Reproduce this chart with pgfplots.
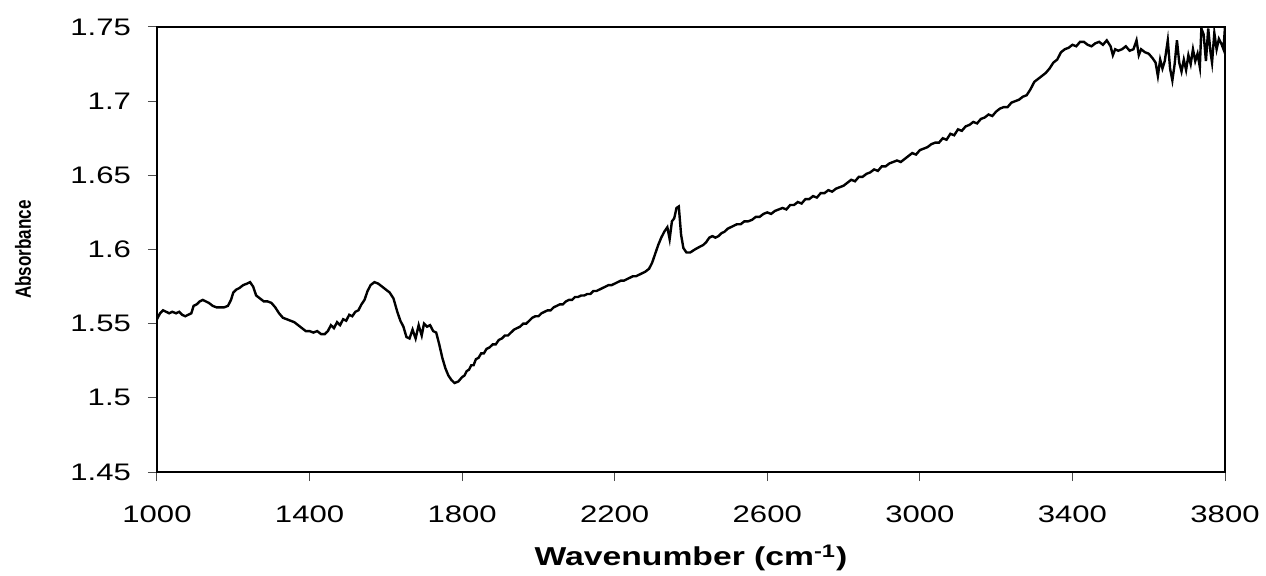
\documentclass[border=0pt]{standalone}
\usepackage{fontspec}
\setmainfont{Liberation Sans}[FakeStretch=1.3]
\newfontfamily\ylabfont{Liberation Sans Bold}[FakeStretch=0.78]
\usepackage{pgfplots}
\pgfplotsset{compat=1.18}
\begin{document}
\begin{tikzpicture}
\path[use as bounding box] (-78.5bp,-52bp) rectangle (554.5bp,236bp);
\begin{axis}[
  scale only axis, width=534bp, height=222.5bp,
  xmin=1000, xmax=3800, ymin=1.45, ymax=1.75,
  xtick={1000,1400,...,3800},
  ytick={1.45,1.5,1.55,1.6,1.65,1.7,1.75},
  /pgf/number format/assume math mode=true,
  /pgf/number format/1000 sep={},
  tick align=outside, major tick length=4.5bp,
  xtick pos=bottom, ytick pos=left,
  axis line style={line width=0.8bp},
  tick style={line width=0.5bp, color=black!70},
  ticklabel style={font=\fontsize{12}{14}\selectfont},
  yticklabel style={xshift=-5bp},
  xticklabel style={yshift=-9bp},
  xlabel={\textbf{Wavenumber (cm\textsuperscript{-1})}},
  xlabel style={font=\fontsize{13}{16}\selectfont, at={(axis description cs:0.5,-0.1933)}, anchor=center},
  ylabel={\ylabfont Absorbance},
  ylabel style={font=\fontsize{11}{13}\selectfont, at={(axis description cs:-0.1255,0.5)}, anchor=center},
]
\addplot[black, line width=1.2bp, mark=none] coordinates {
(1000,1.553) (1008,1.557) (1016,1.559) (1024,1.558) (1032,1.557) (1040,1.558) (1050,1.557) (1058,1.558) (1066,1.556) (1074,1.555)
(1082,1.556) (1090,1.557) (1096,1.562) (1104,1.563) (1112,1.565) (1120,1.566) (1128,1.565) (1136,1.564) (1146,1.562) (1156,1.561)
(1166,1.561) (1176,1.561) (1186,1.562) (1194,1.566) (1200,1.571) (1208,1.573) (1216,1.574) (1226,1.576) (1236,1.577) (1244,1.578)
(1252,1.575) (1260,1.569) (1270,1.567) (1280,1.565) (1290,1.565) (1300,1.564) (1310,1.561) (1320,1.557) (1330,1.554) (1340,1.553)
(1350,1.552) (1360,1.551) (1370,1.549) (1380,1.547) (1390,1.545) (1400,1.545) (1410,1.544) (1420,1.545) (1430,1.543) (1440,1.543)
(1448,1.545) (1456,1.549) (1464,1.547) (1472,1.551) (1480,1.549) (1488,1.553) (1496,1.552) (1504,1.556) (1512,1.555) (1520,1.558)
(1528,1.559) (1536,1.563) (1544,1.566) (1552,1.572) (1560,1.576) (1570,1.578) (1580,1.577) (1590,1.575) (1600,1.573) (1610,1.571)
(1620,1.567) (1630,1.558) (1638,1.552) (1646,1.548) (1654,1.541) (1662,1.540) (1670,1.546) (1678,1.540) (1686,1.549) (1694,1.542)
(1700,1.550) (1708,1.548) (1716,1.549) (1724,1.545) (1732,1.544) (1740,1.536) (1748,1.527) (1756,1.520) (1764,1.515) (1772,1.512)
(1780,1.510) (1790,1.511) (1800,1.514) (1806,1.515) (1812,1.518) (1818,1.519) (1824,1.522) (1830,1.522) (1836,1.526) (1843,1.527)
(1850,1.530) (1857,1.530) (1864,1.533) (1872,1.534) (1880,1.536) (1888,1.536) (1896,1.539) (1904,1.540) (1912,1.542) (1920,1.542)
(1928,1.544) (1936,1.546) (1944,1.547) (1952,1.548) (1960,1.550) (1968,1.550) (1976,1.552) (1984,1.554) (1992,1.555) (2000,1.555)
(2008,1.557) (2016,1.558) (2024,1.559) (2032,1.559) (2040,1.561) (2048,1.562) (2056,1.563) (2064,1.563) (2072,1.565) (2080,1.566)
(2088,1.566) (2096,1.568) (2104,1.568) (2112,1.569) (2120,1.569) (2128,1.570) (2136,1.570) (2144,1.572) (2152,1.572) (2160,1.573)
(2168,1.574) (2176,1.575) (2184,1.576) (2192,1.576) (2200,1.577) (2208,1.578) (2216,1.579) (2224,1.579) (2232,1.580) (2240,1.581)
(2248,1.582) (2256,1.582) (2264,1.583) (2272,1.584) (2280,1.585) (2290,1.587) (2298,1.591) (2306,1.597) (2314,1.603) (2322,1.608)
(2330,1.612) (2338,1.615) (2344,1.607) (2350,1.619) (2356,1.621) (2362,1.628) (2368,1.629) (2374,1.610) (2380,1.601) (2388,1.598)
(2398,1.598) (2410,1.600) (2424,1.602) (2432,1.603) (2440,1.605) (2448,1.608) (2456,1.609) (2464,1.608) (2472,1.609) (2480,1.611)
(2488,1.612) (2496,1.614) (2504,1.615) (2512,1.616) (2520,1.617) (2530,1.617) (2540,1.619) (2550,1.619) (2560,1.620) (2570,1.622)
(2580,1.622) (2590,1.624) (2600,1.625) (2610,1.624) (2620,1.626) (2630,1.627) (2640,1.628) (2650,1.627) (2660,1.630) (2670,1.630)
(2680,1.632) (2690,1.631) (2700,1.634) (2710,1.634) (2720,1.636) (2730,1.635) (2740,1.638) (2750,1.638) (2760,1.640) (2770,1.639)
(2780,1.641) (2790,1.642) (2800,1.643) (2810,1.645) (2820,1.647) (2830,1.646) (2840,1.649) (2850,1.649) (2860,1.651) (2870,1.652)
(2880,1.654) (2890,1.653) (2900,1.656) (2910,1.656) (2920,1.658) (2930,1.659) (2940,1.660) (2950,1.659) (2960,1.661) (2970,1.663)
(2980,1.665) (2990,1.664) (3000,1.667) (3010,1.668) (3020,1.669) (3030,1.671) (3040,1.672) (3050,1.672) (3060,1.675) (3070,1.674)
(3080,1.678) (3090,1.677) (3100,1.681) (3110,1.680) (3120,1.683) (3130,1.684) (3140,1.686) (3150,1.685) (3160,1.688) (3170,1.689)
(3180,1.691) (3190,1.690) (3200,1.693) (3210,1.695) (3220,1.696) (3230,1.696) (3240,1.699) (3250,1.700) (3260,1.701) (3270,1.703)
(3280,1.704) (3290,1.708) (3300,1.713) (3310,1.715) (3320,1.717) (3330,1.719) (3340,1.722) (3350,1.726) (3360,1.728) (3370,1.733)
(3380,1.735) (3390,1.736) (3400,1.738) (3410,1.737) (3420,1.740) (3430,1.740) (3440,1.738) (3450,1.737) (3460,1.739) (3470,1.740)
(3480,1.738) (3490,1.741) (3500,1.737) (3506,1.731) (3512,1.735) (3520,1.734) (3530,1.735) (3540,1.737) (3550,1.734) (3560,1.735)
(3568,1.741) (3574,1.731) (3580,1.735) (3590,1.733) (3600,1.732) (3610,1.729) (3618,1.726) (3624,1.717) (3630,1.728) (3636,1.722)
(3642,1.727) (3650,1.741) (3656,1.722) (3662,1.714) (3668,1.725) (3674,1.741) (3680,1.726) (3686,1.720) (3692,1.728) (3698,1.721)
(3704,1.731) (3710,1.725) (3716,1.735) (3722,1.727) (3728,1.732) (3734,1.723) (3738,1.749) (3744,1.745) (3750,1.727) (3756,1.749)
(3762,1.733) (3766,1.726) (3772,1.746) (3778,1.735) (3784,1.742) (3790,1.739) (3796,1.735) (3800,1.750)
};
\end{axis}
\end{tikzpicture}
\end{document}
